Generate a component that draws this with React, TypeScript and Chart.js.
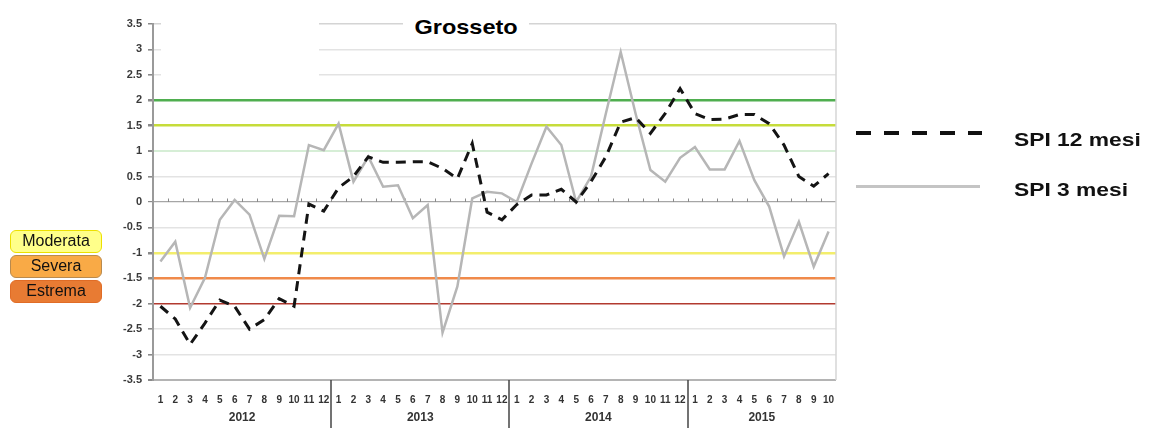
import React, { useEffect, useRef } from "react";
import { Chart, registerables } from "chart.js";

Chart.register(...registerables);

const FONT = 'Arial, "Liberation Sans", Helvetica, sans-serif';

const years = ["2012", "2013", "2014", "2015"];
const monthsPerYear = [12, 12, 12, 10];
const monthLabels = [
  "1", "2", "3", "4", "5", "6", "7", "8", "9", "10", "11", "12",
  "1", "2", "3", "4", "5", "6", "7", "8", "9", "10", "11", "12",
  "1", "2", "3", "4", "5", "6", "7", "8", "9", "10", "11", "12",
  "1", "2", "3", "4", "5", "6", "7", "8", "9", "10",
];

const spi12 = [
  -2.05, -2.3, -2.8, -2.38, -1.93, -2.05, -2.5, -2.31, -1.9, -2.05, -0.04, -0.18,
  0.28, 0.5, 0.89, 0.78, 0.78, 0.79, 0.79, 0.66, 0.46, 1.15, -0.2, -0.35,
  -0.05, 0.14, 0.14, 0.25, 0.0, 0.4, 0.89, 1.57, 1.66, 1.35, 1.74, 2.23,
  1.74, 1.62, 1.63, 1.72, 1.72, 1.54, 1.12, 0.5, 0.31, 0.56,
];

const spi3 = [
  -1.17, -0.78, -2.08, -1.49, -0.35, 0.04, -0.25, -1.12, -0.27, -0.28, 1.12, 1.02,
  1.54, 0.4, 0.89, 0.3, 0.33, -0.32, -0.06, -2.57, -1.66, 0.07, 0.2, 0.17,
  0.0, 0.76, 1.48, 1.12, 0.0, 0.5, 1.74, 2.95, 1.74, 0.63, 0.4, 0.87,
  1.08, 0.64, 0.64, 1.2, 0.43, -0.09, -1.07, -0.39, -1.27, -0.58,
];

const yMin = -3.5;
const yMax = 3.5;
const yStep = 0.5;

// threshold lines (value -> colour)
const thresholdValues = [2, 1.5, 1, 0, -1, -1.5, -2, 3.5, -3.5];
const thresholdColors = ["#4fae4f", "#c6dc3a", "#d6eed6", "#a6a6a6", "#f3ee6c", "#f08a4a", "#b23a30", "#d4d4d4", "#b4b4b4"];
const thresholdWidths = [2.5, 2.5, 2, 1.2, 2.5, 2.5, 1.6, 1.5, 2];

const severityLabels = ["Moderata", "Severa", "Estrema"];
const severityFills = ["#ffff8a", "#f9aa46", "#e87b33"];
const severityBorders = ["#ece000", "#b98a4e", "#e06c26"];

const legendLabels = ["SPI 12 mesi", "SPI 3 mesi"];

function gridColor(v: number) {
  const i = thresholdValues.findIndex((t) => Math.abs(t - v) < 1e-6);
  return i >= 0 ? thresholdColors[i] : "#e3e3e3";
}
function gridWidth(v: number) {
  const i = thresholdValues.findIndex((t) => Math.abs(t - v) < 1e-6);
  return i >= 0 ? thresholdWidths[i] : 1.6;
}

const decorPlugin = {
  id: "decor",
  beforeDatasetsDraw(chart: any) {
    const { ctx, chartArea, scales } = chart;
    const x = scales.x;
    const y = scales.y;
    ctx.save();
    // right border
    ctx.strokeStyle = "#d6d6d6";
    ctx.lineWidth = 1.5;
    ctx.beginPath();
    ctx.moveTo(chartArea.right, chartArea.top);
    ctx.lineTo(chartArea.right, chartArea.bottom);
    ctx.stroke();
    // small ticks on the zero line
    const y0 = y.getPixelForValue(0);
    ctx.strokeStyle = "#8a8a8a";
    ctx.lineWidth = 1;
    for (let i = 1; i < monthLabels.length; i++) {
      const bx = Math.round((x.getPixelForValue(i - 1) + x.getPixelForValue(i)) / 2) + 0.5;
      ctx.beginPath();
      ctx.moveTo(bx, y0 - 3.5);
      ctx.lineTo(bx, y0);
      ctx.stroke();
    }
    ctx.restore();
  },
  afterDraw(chart: any) {
    const { ctx, chartArea, scales } = chart;
    const x = scales.x;
    ctx.save();
    ctx.font = `bold 12px ${FONT}`;
    ctx.fillStyle = "#333";
    ctx.textAlign = "center";
    ctx.textBaseline = "middle";
    let start = 0;
    years.forEach((yr, k) => {
      const n = monthsPerYear[k];
      const end = start + n - 1;
      const cx = (x.getPixelForValue(start) + x.getPixelForValue(end)) / 2;
      ctx.fillText(yr, cx, chartArea.bottom + 38);
      if (k < years.length - 1) {
        const sx = Math.round((x.getPixelForValue(end) + x.getPixelForValue(end + 1)) / 2);
        ctx.strokeStyle = "#444";
        ctx.lineWidth = 1.5;
        ctx.beginPath();
        ctx.moveTo(sx, chartArea.bottom);
        ctx.lineTo(sx, chart.height);
        ctx.stroke();
      }
      start += n;
    });
    ctx.restore();
  },
};

export default function App() {
  const ref = useRef<HTMLCanvasElement | null>(null);

  useEffect(() => {
    document.body.style.margin = "0";
    const canvas = ref.current;
    if (!canvas) return;
    const chart = new Chart(canvas, {
      type: "line",
      data: {
        labels: monthLabels,
        datasets: [
          {
            label: legendLabels[0],
            data: spi12,
            borderColor: "#141414",
            borderWidth: 3,
            borderDash: [10, 7],
            pointRadius: 0,
            tension: 0,
            fill: false,
          },
          {
            label: legendLabels[1],
            data: spi3,
            borderColor: "#b6b6b6",
            borderWidth: 2.5,
            pointRadius: 0,
            tension: 0,
            fill: false,
          },
        ],
      },
      options: {
        responsive: false,
        animation: false,
        devicePixelRatio: 1,
        layout: { padding: { left: 0, right: 314, top: 24, bottom: 0 } },
        plugins: {
          legend: { display: false },
          title: { display: false },
          tooltip: { enabled: false },
        },
        scales: {
          x: {
            type: "category",
            offset: true,
            grid: { display: false, drawTicks: false },
            border: { display: false },
            ticks: {
              autoSkip: false,
              maxRotation: 0,
              minRotation: 0,
              padding: 14,
              color: "#333",
              font: { family: FONT, size: 10, weight: "bold" },
            },
            afterFit: (scale: any) => {
              scale.height = 48;
            },
          },
          y: {
            min: yMin,
            max: yMax,
            ticks: {
              stepSize: yStep,
              padding: 6,
              color: "#3a3a3a",
              font: { family: FONT, size: 11, weight: "bold" },
              callback: (v: any) => String(Math.round(Number(v) * 10) / 10),
            },
            grid: {
              color: (c: any) => gridColor(c.tick ? c.tick.value : 99),
              lineWidth: (c: any) => gridWidth(c.tick ? c.tick.value : 99),
              tickColor: "#8a8a8a",
              tickLength: 5,
              drawTicks: true,
            },
            border: { display: true, color: "#9a9a9a", width: 2 },
            afterFit: (scale: any) => {
              scale.width = 153;
            },
          },
        },
      },
      plugins: [decorPlugin],
    } as any);
    return () => chart.destroy();
  }, []);

  return (
    <div style={{ position: "absolute", left: 0, top: 0, width: 1150, height: 428, background: "#fff", overflow: "hidden", fontFamily: FONT }}>
      <canvas ref={ref} width={1150} height={428} style={{ position: "absolute", left: 0, top: 0, width: 1150, height: 428 }} />
      {/* white patch over upper gridlines, as in the source */}
      <div style={{ position: "absolute", left: 161, top: 14, width: 158, height: 66, background: "#fff" }} />
      {/* title */}
      <div style={{ position: "absolute", left: 403, top: 11, width: 126, height: 32, background: "#fff", display: "flex", alignItems: "center", justifyContent: "center" }}>
        <span style={{ fontWeight: "bold", fontSize: 21, color: "#000", transform: "scaleX(1.12)", display: "inline-block" }}>Grosseto</span>
      </div>
      {/* severity badges */}
      {severityLabels.map((s, i) => (
        <div
          key={s}
          style={{
            position: "absolute",
            left: 10,
            top: 230 + i * 25,
            width: 92,
            height: 23,
            boxSizing: "border-box",
            background: severityFills[i],
            border: `1.5px solid ${severityBorders[i]}`,
            borderRadius: 6,
            fontSize: 16,
            lineHeight: "20px",
            textAlign: "center",
            color: "#111",
          }}
        >
          {s}
        </div>
      ))}
      {/* legend */}
      <div style={{ position: "absolute", left: 856, top: 131, width: 126, height: 4, background: "repeating-linear-gradient(to right, #111 0px, #111 15px, transparent 15px, transparent 28px)" }} />
      <div style={{ position: "absolute", left: 856, top: 185, width: 124, height: 3, background: "#c4c4c4" }} />
      <div style={{ position: "absolute", left: 1014, top: 130, fontWeight: "bold", fontSize: 19, lineHeight: "19px", whiteSpace: "nowrap", transform: "scaleX(1.2)", transformOrigin: "left top", color: "#111" }}>
        {legendLabels[0]}
      </div>
      <div style={{ position: "absolute", left: 1014, top: 180, fontWeight: "bold", fontSize: 19, lineHeight: "19px", whiteSpace: "nowrap", transform: "scaleX(1.2)", transformOrigin: "left top", color: "#111" }}>
        {legendLabels[1]}
      </div>
    </div>
  );
}
